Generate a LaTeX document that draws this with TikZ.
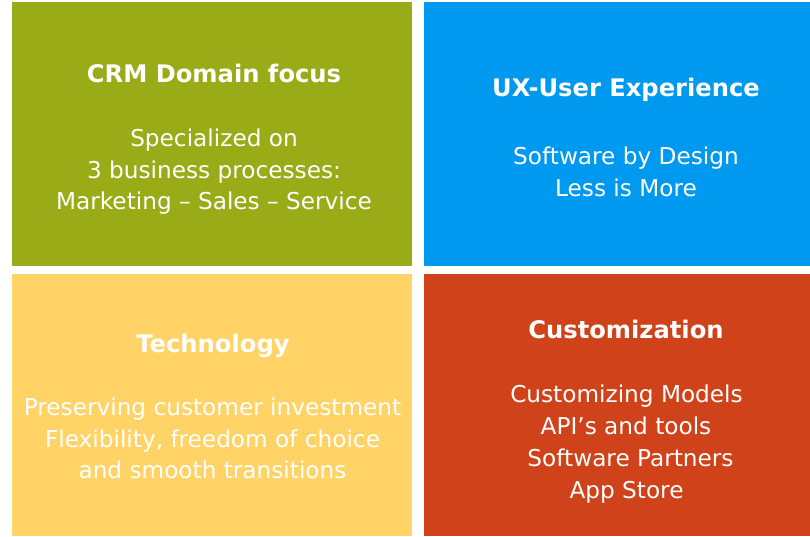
\documentclass[tikz,border=0pt]{standalone}
\usepackage{fontspec}
\setmainfont{DejaVu Sans}
\definecolor{cgreen}{RGB}{154,171,24}
\definecolor{cblue}{RGB}{0,153,240}
\definecolor{cyellow}{RGB}{255,211,102}
\definecolor{cred}{RGB}{208,66,26}
\begin{document}
\begin{tikzpicture}[x=1pt,y=-1pt,
  ttl/.style={text=white,anchor=base,inner sep=0pt,font=\fontsize{24.2}{29}\selectfont\bfseries},
  bdy/.style={text=white,anchor=base,inner sep=0pt,font=\fontsize{23.2}{28}\selectfont}]
\useasboundingbox (0,0) rectangle (810,536);
\fill[white] (0,0) rectangle (810,536);
\fill[cgreen] (12,2) rectangle (412,266);
\fill[cblue] (424,2) rectangle (810,266);
\fill[cyellow] (12,274) rectangle (412,536);
\fill[cred] (424,274) rectangle (810,536);
% green
\node[ttl] (gt) at (214,82) {CRM Domain focus};
\node[bdy] (g1) at (214,146) {Specialized on};
\node[bdy] (g2) at (214,178) {3 business processes:};
\node[bdy] (g3) at (214,209) {Marketing – Sales – Service};
% blue
\node[ttl] (bt) at (626,96) {UX-User Experience};
\node[bdy] (b1) at (626,164) {Software by Design};
\node[bdy] (b2) at (626,196) {Less is More};
% yellow
\node[ttl] (yt) at (213,352) {Technology};
\node[bdy] (y1) at (212.5,415) {Preserving customer investment};
\node[bdy] (y2) at (212.5,447) {Flexibility, freedom of choice};
\node[bdy] (y3) at (212.5,478) {and smooth transitions};
% red
\node[ttl] (rt) at (626,338) {Customization};
\node[bdy] (r1) at (626.5,402) {Customizing Models};
\node[bdy] (r2) at (626,434) {API’s and tools};
\node[bdy] (r3) at (630.5,466) {Software Partners};
\node[bdy] (r4) at (626.5,498) {App Store};
\end{tikzpicture}
\end{document}
